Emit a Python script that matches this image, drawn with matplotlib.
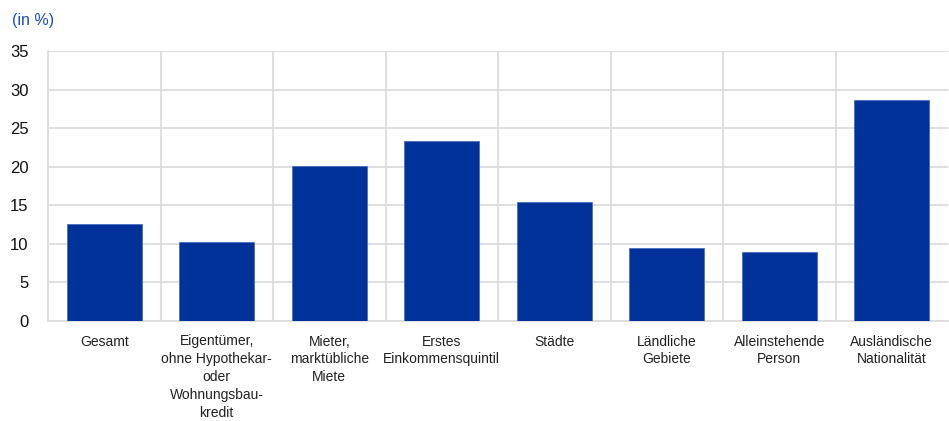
import matplotlib
matplotlib.use("Agg")
import matplotlib.pyplot as plt
from matplotlib import font_manager

categories = [
    "Gesamt",
    "Eigentümer,\nohne Hypothekar-\noder\nWohnungsbau-\nkredit",
    "Mieter,\nmarktübliche\nMiete",
    "Erstes\nEinkommensquintil",
    "Städte",
    "Ländliche\nGebiete",
    "Alleinstehende\nPerson",
    "Ausländische\nNationalität",
]
values = [12.6, 10.2, 20.1, 23.3, 15.4, 9.5, 9.0, 28.7]
yticks = [0, 5, 10, 15, 20, 25, 30, 35]

available = {f.name for f in font_manager.fontManager.ttflist}
narrow = "Liberation Sans Narrow" if "Liberation Sans Narrow" in available else "Liberation Sans"
label_size = 10.5 if narrow == "Liberation Sans Narrow" else 10

plt.rcParams["font.family"] = ["Liberation Sans", "DejaVu Sans"]

fig = plt.figure(figsize=(9.49, 4.21), dpi=100)
ax = fig.add_axes([48 / 949, 100 / 421, 900 / 949, 270 / 421])

x = list(range(len(categories)))
ax.bar(x, values, width=0.67, color="#003299", edgecolor="#4a6fc0",
       linewidth=0.6, zorder=3)

ax.set_xlim(-0.5, len(categories) - 0.5)
ax.set_ylim(0, 35)
ax.set_yticks(yticks)
ax.set_yticklabels([str(t) for t in yticks], fontsize=12, color="#111111")

# vertical separators between categories
ax.set_xticks([i + 0.5 for i in range(-1, len(categories) - 1)])
ax.set_xticklabels([])
ax.tick_params(axis="x", length=0)
ax.tick_params(axis="y", length=0, pad=14)
ax.grid(True, axis="both", color="#dcdcdc", linewidth=1.3, zorder=0)

for i, lab in enumerate(categories):
    ax.text(i, -1.75, lab, ha="center", va="top", fontsize=label_size,
            family=narrow, color="#222222", linespacing=1.35,
            transform=ax.transData)

for side in ["top", "right"]:
    ax.spines[side].set_visible(False)
ax.spines["left"].set_color("#dcdcdc")
ax.spines["left"].set_linewidth(1.3)
ax.spines["bottom"].set_color("#dcdcdc")
ax.spines["bottom"].set_linewidth(1.3)

fig.text(12 / 949, 1 - 20 / 421, "(in %)", fontsize=11.5, color="#1f4fb5",
         ha="left", va="center")

fig.savefig("out.png", dpi=100)
